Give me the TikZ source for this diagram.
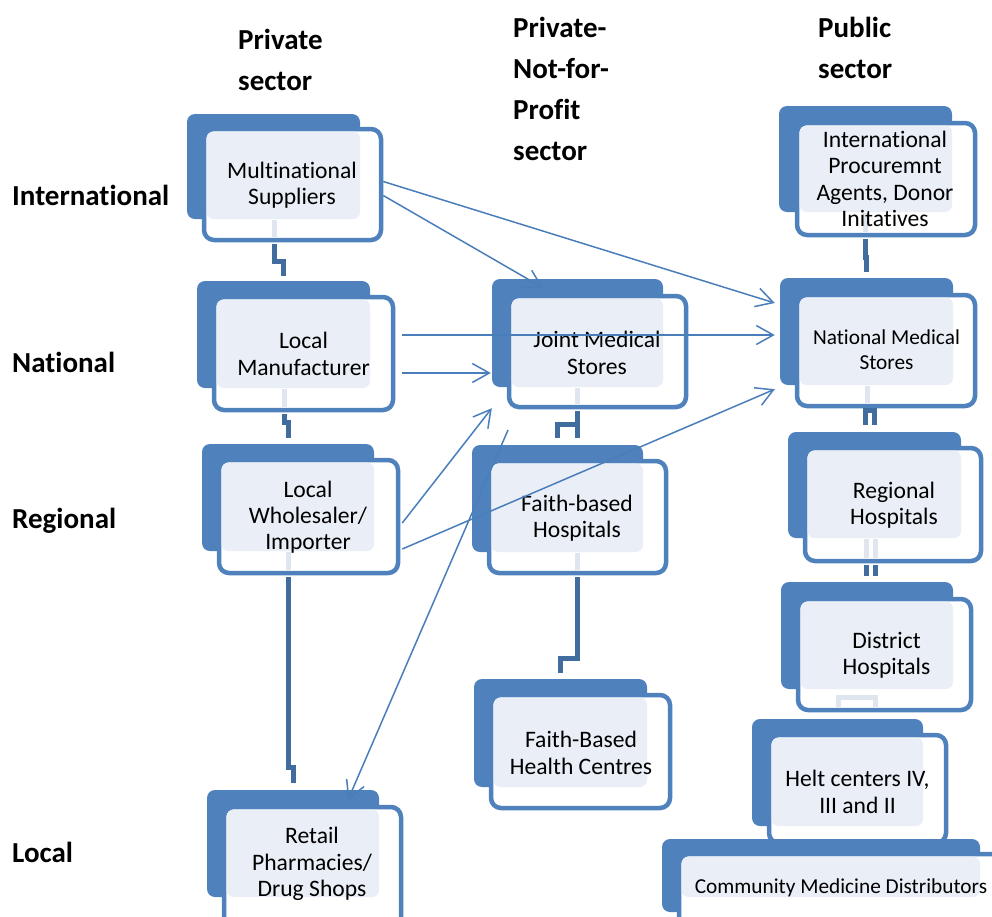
\documentclass[tikz,border=0pt]{standalone}
\usepackage{fontspec}
\setmainfont{Carlito}[Ligatures={NoCommon}]
\usetikzlibrary{arrows.meta,calc}
\definecolor{bblue}{RGB}{79,129,189}
\definecolor{lightf}{RGB}{234,239,247}
\definecolor{stubc}{RGB}{224,230,240}
\definecolor{connc}{RGB}{64,108,158}
\definecolor{arrc}{RGB}{74,126,187}
\tikzset{
  backbox/.style={fill=bblue, rounded corners=8pt, inner sep=0pt, draw=none},
  frontbox/.style={fill=white, draw=bblue, line width=4.5pt, rounded corners=10pt, inner sep=0pt},
  lightbox/.style={fill=lightf, rounded corners=7pt},
  boxtext/.style={align=center, font=\fontsize{23.6}{26.3}\selectfont, inner sep=0pt, text=black},
  smalltext/.style={align=center, font=\fontsize{21.3}{25}\selectfont, inner sep=0pt, text=black},
  header/.style={align=left, font=\fontsize{29}{41}\selectfont\bfseries, inner sep=0pt, text=black},
  elbow/.style={draw=connc, line width=5pt},
  stub/.style={draw=stubc, line width=5pt},
  flow/.style={draw=arrc, line width=1.5pt, -{Straight Barb[length=17pt,width=19pt]}},
}
% name, back L,T,R,B, front L,T,R,B
\newcommand{\mkbox}[9]{%
  \node[backbox, minimum width={(#4)-(#2)}, minimum height={(#5)-(#3)}] (#1-b) at ({((#2)+(#4))/2},{((#3)+(#5))/2}) {};
  \node[frontbox, minimum width={(#8)-(#6)-4}, minimum height={(#9)-(#7)-4}] (#1) at ({((#6)+(#8))/2},{((#7)+(#9))/2}) {};
  \fill[lightbox] ({(#6)+4.5},{(#7)+4.5}) rectangle (#4,#5);
}
\begin{document}
\begin{tikzpicture}[x=1pt,y=-1pt]
\useasboundingbox (0,0) rectangle (992,916);
\clip (0,0) rectangle (992,916);
\fill[white] (0,0) rectangle (992,916);

% headers (base anchor = baseline of last line)
\node[header, anchor=base west] (hpriv) at (238,90) {Private\\sector};
\node[header, anchor=base west] (hpnfp) at (513,160) {Private-\\Not-for-\\Profit\\sector};
\node[header, anchor=base west] (hpub) at (818,78) {Public\\sector};
\node[header, anchor=base west] (rint) at (12,205) {International};
\node[header, anchor=base west] (rnat) at (12,372) {National};
\node[header, anchor=base west] (rreg) at (12,528) {Regional};
\node[header, anchor=base west] (rloc) at (12,862) {Local};

% boxes
\mkbox{ms}{187}{114}{360}{219}{202}{127}{383}{242}
\mkbox{lm}{197}{281}{370}{388}{212}{295}{395}{412}
\mkbox{lw}{202}{444}{374}{551}{217}{458}{400}{575}
\mkbox{rp}{207}{790}{379}{897}{222}{805}{403}{935}
\mkbox{jms}{492}{279}{663}{387}{507}{294}{688}{409}
\mkbox{fbh}{472}{445}{643}{552}{487}{459}{668}{575}
\mkbox{fbhc}{474}{679}{647}{787}{489}{693}{672}{810}
\mkbox{ip}{779}{106}{952}{212}{795}{121}{977}{237}
\mkbox{nms}{780}{278}{953}{385}{795}{293}{977}{408}
\mkbox{rh}{788}{432}{961}{538}{803}{446}{983}{563}
\mkbox{dh}{781}{582}{953}{689}{796}{597}{973}{712}
\mkbox{hc}{752}{719}{923}{826}{767}{733}{948}{845}
% community medicine distributors
\node[backbox, minimum width=318, minimum height=73] (cmd-b) at (821,875.5) {};
\node[frontbox, minimum width=329, minimum height=79] (cmd) at (843.5,893.5) {};
\fill[lightbox] (681.5,856.5) rectangle (980,897);

% light stubs inside front boxes
\draw[stub] (274.5,220) -- (274.5,237);
\draw[stub] (284,389) -- (284,407);
\draw[stub] (288,552) -- (288,570);
\draw[stub] (577,388) -- (577,404);
\draw[stub] (577,553) -- (577,570);
\draw[stub] (865,213) -- (865,232);
\draw[stub] (867,386) -- (867,403);
\draw[stub] (866,539) -- (866,558);
\draw[stub] (875,539) -- (875,558);
\draw[stub] (838,707) -- (838,697) -- (875,697) -- (875,707);

% elbow connectors
\draw[elbow] ($(ms.south)+(-18,2)$) |- ($(lm-b.north)+(0,-19)$) -- ($(lm-b.north)+(0,-5)$);
\draw[elbow] ($(lm.south)+(-19.5,2)$) |- ($(lw-b.north)+(0,-21)$) -- ($(lw-b.north)+(0,-6)$);
\draw[elbow] ($(lw.south)+(-20.5,2)$) |- ($(rp-b.north)+(0,-22)$) -- ($(rp-b.north)+(0,-7)$);
\draw[elbow] ($(jms.south)+(-20.5,2)$) -- ($(fbh-b.north)+(19.5,-7)$);
\draw[elbow] ($(fbh-b.north)+(19.5,-20)$) -| ($(fbh-b.north)+(0,-7)$);
\draw[elbow] ($(fbh.south)+(0,2)$) |- ($(fbhc-b.north)+(0,-20)$) -- ($(fbhc-b.north)+(0,-6)$);
\draw[elbow] ($(ip.south)+(-21,2)$) |- ($(nms-b.north)+(0,-20)$) -- ($(nms-b.north)+(0,-6)$);
\draw[elbow] ($(rh-b.north)+(-9,-7)$) -- ($(rh-b.north)+(-9,-21)$) -- ($(rh-b.north)+(0,-21)$) -- ($(rh-b.north)+(0,-7)$);
\draw[elbow] ($(rh.south)+(-27,2)$) -- ($(dh-b.north)+(-1,-6)$);
\draw[elbow] ($(rh.south)+(-18,2)$) -- ($(dh-b.north)+(8,-6)$);

% box texts
\node[boxtext] (ms-t) at (292,185) {Multinational\\Suppliers};
\node[boxtext] (lm-t) at (303.5,354) {Local\\Manufacturer};
\node[boxtext] (lw-t) at (308,517) {Local\\Wholesaler/\\Importer};
\node[boxtext] (rp-t) at (312,864) {Retail\\Pharmacies/\\Drug Shops};
\node[boxtext] (jms-t) at (597,353) {Joint Medical\\Stores};
\node[boxtext] (fbh-t) at (577,518) {Faith-based\\Hospitals};
\node[boxtext] (fbhc-t) at (581,753) {Faith-Based\\Health Centres};
\node[boxtext] (ip-t) at (885,179) {International\\Procuremnt\\Agents, Donor\\Initatives};
\node[smalltext] (nms-t) at (886.5,350) {National Medical\\Stores};
\node[boxtext] (rh-t) at (894,505) {Regional\\Hospitals};
\node[boxtext] (dh-t) at (886.5,655) {District\\Hospitals};
\node[boxtext] (hc-t) at (857.5,792) {Helt centers IV,\\III and II};
\node[smalltext] (cmd-t) at (841,888) {Community Medicine Distributors};

% flows
\coordinate (src7) at (508,430);
\draw[flow] ($(ms.east)+(0,-3)$) -- ($(nms-b.west)+(-5,-28.5)$);
\draw[flow] ($(ms.east)+(0,11)$) -- ($(jms-b.north)+(-34.5,9)$);
\draw[flow] ($(lm.east)+(7,-18.5)$) -- ($(nms-b.west)+(-5,3.5)$);
\draw[flow] ($(lm.east)+(7,19.5)$) -- ($(jms-b.west)+(-1,40)$);
\draw[flow] ($(lw.east)+(2,6.5)$) -- ($(jms-b.south west)+(0,21)$);
\draw[flow] ($(lw.east)+(2,32.5)$) -- ($(nms-b.south west)+(-5,4)$);
\draw[flow] (src7) -- ($(rp-b.north)+(55,10)$);
\end{tikzpicture}
\end{document}
